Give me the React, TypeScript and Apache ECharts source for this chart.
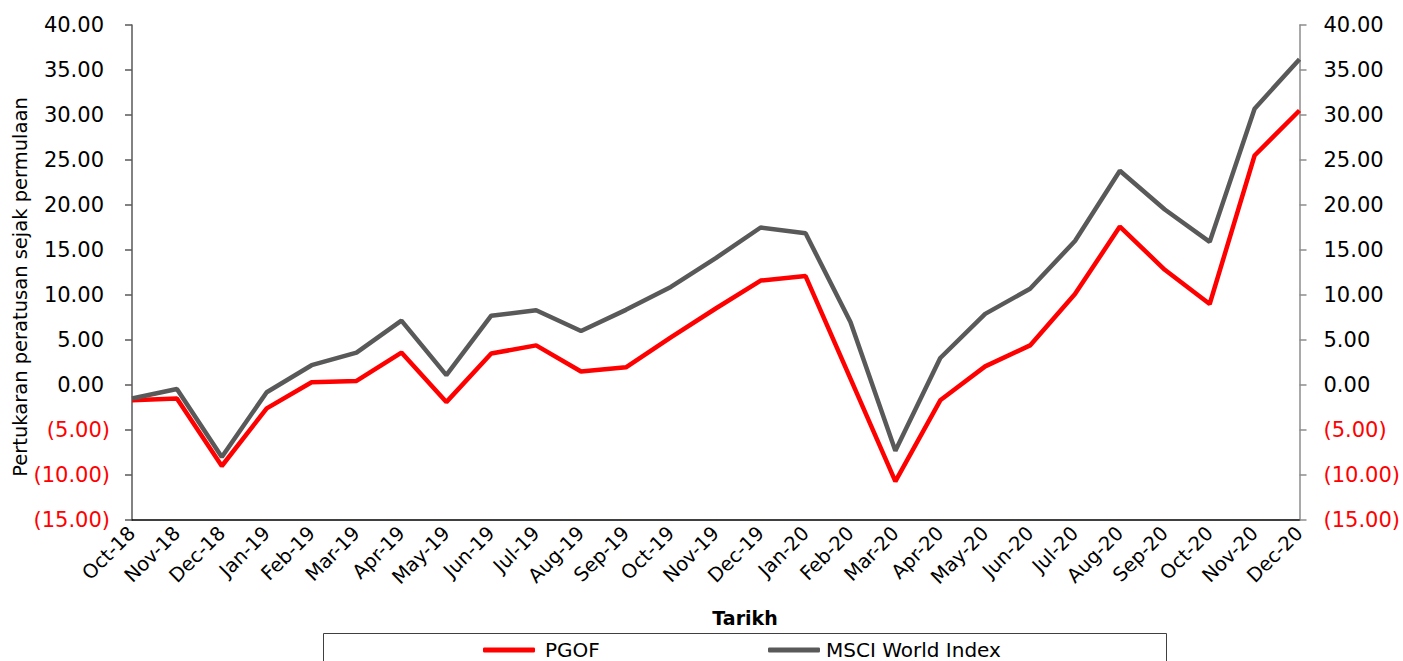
import React, { useEffect, useRef } from "react";
import * as echarts from "echarts";

const categories = [
  "Oct-18", "Nov-18", "Dec-18", "Jan-19", "Feb-19", "Mar-19", "Apr-19", "May-19", "Jun-19",
  "Jul-19", "Aug-19", "Sep-19", "Oct-19", "Nov-19", "Dec-19", "Jan-20", "Feb-20", "Mar-20",
  "Apr-20", "May-20", "Jun-20", "Jul-20", "Aug-20", "Sep-20", "Oct-20", "Nov-20", "Dec-20",
];

const pgof = [
  -1.7, -1.5, -9.0, -2.6, 0.3, 0.45, 3.6, -1.9, 3.5,
  4.4, 1.5, 1.96, 5.3, 8.5, 11.6, 12.1, 0.7, -10.7,
  -1.7, 2.07, 4.4, 10.1, 17.6, 12.8, 9.0, 25.5, 30.5,
];

const msci = [
  -1.5, -0.45, -8.0, -0.8, 2.2, 3.6, 7.15, 1.1, 7.7,
  8.3, 6.0, 8.35, 10.9, 14.1, 17.5, 16.85, 7.0, -7.3,
  3.0, 7.9, 10.7, 16.0, 23.8, 19.5, 15.9, 30.7, 36.2,
];

const yMin = -15;
const yMax = 40;
const yStep = 5;

const seriesNames = ["PGOF", "MSCI World Index"];
const yTitle = "Pertukaran peratusan sejak permulaan";
const xTitle = "Tarikh";

const FONT = "DejaVu Sans";

function fmt(v: number): string {
  return v < 0 ? `(${Math.abs(v).toFixed(2)})` : v.toFixed(2);
}

export default function App() {
  const ref = useRef<HTMLDivElement>(null);

  useEffect(() => {
    if (!ref.current) return;
    const chart = echarts.init(ref.current, undefined, { renderer: "svg" });
    const option: any = {
      animation: false,
      backgroundColor: "#ffffff",
      textStyle: { fontFamily: FONT },
      grid: { left: 132, right: 97, top: 25, bottom: 141, containLabel: false },
      xAxis: {
        type: "category",
        data: categories,
        boundaryGap: false,
        axisLine: { onZero: false, lineStyle: { color: "#000000", width: 1.5 } },
        axisTick: { show: false },
        axisLabel: {
          interval: 0,
          rotate: 45,
          fontSize: 19.5,
          color: "#000000",
          fontFamily: FONT,
          margin: 10,
        },
        splitLine: { show: false },
      },
      yAxis: [
        {
          type: "value",
          position: "left",
          min: yMin,
          max: yMax,
          interval: yStep,
          axisLine: { show: true, lineStyle: { color: "#595959", width: 1.5 } },
          axisTick: { show: true, length: 7, lineStyle: { color: "#595959", width: 1.5 } },
          splitLine: { show: false },
          axisLabel: {
            margin: 22,
            fontSize: 21,
            fontFamily: FONT,
            formatter: (v: number) => (v < 0 ? `{n|${fmt(v)}}` : `{p|${fmt(v)}}`),
            rich: {
              p: { color: "#000000", fontSize: 21, fontFamily: FONT, padding: [0, 6, 0, 0] },
              n: { color: "#ff0000", fontSize: 21, fontFamily: FONT },
            },
          },
        },
        {
          type: "value",
          position: "right",
          min: yMin,
          max: yMax,
          interval: yStep,
          axisLine: { show: true, lineStyle: { color: "#8c8c8c", width: 1.5 } },
          axisTick: { show: true, length: 7, lineStyle: { color: "#8c8c8c", width: 1.5 } },
          splitLine: { show: false },
          axisLabel: {
            margin: 24,
            fontSize: 21,
            fontFamily: FONT,
            formatter: (v: number) => fmt(v),
            color: (v: any) => (Number(v) < 0 ? "#ff0000" : "#000000"),
          },
        },
      ],
      legend: [
        {
          data: [seriesNames[0]],
          left: 483,
          top: 640,
          itemWidth: 52,
          itemHeight: 5,
          itemGap: 0,
          icon: "roundRect",
          padding: 0,
          textStyle: { fontSize: 20, color: "#000000", fontFamily: FONT, padding: [0, 0, 0, 5] },
        },
        {
          data: [seriesNames[1]],
          left: 768,
          top: 640,
          itemWidth: 52,
          itemHeight: 5,
          itemGap: 0,
          icon: "roundRect",
          padding: 0,
          textStyle: { fontSize: 20, color: "#000000", fontFamily: FONT, padding: [0, 0, 0, 1] },
        },
      ],
      graphic: [
        {
          type: "rect",
          shape: { x: 323.5, y: 633.5, width: 843, height: 40 },
          style: { fill: "none", stroke: "#404040", lineWidth: 1 },
          silent: true,
        },
        {
          type: "text",
          x: 20,
          y: 287,
          rotation: Math.PI / 2,
          style: {
            text: yTitle,
            fontSize: 19.5,
            fontFamily: FONT,
            fill: "#000000",
            align: "center",
            verticalAlign: "middle",
          },
        },
        {
          type: "text",
          x: 745,
          y: 618,
          style: {
            text: xTitle,
            fontSize: 19,
            fontWeight: "bold",
            fontFamily: FONT,
            fill: "#000000",
            align: "center",
            verticalAlign: "middle",
          },
        },
      ],
      series: [
        {
          name: seriesNames[0],
          type: "line",
          data: pgof,
          yAxisIndex: 0,
          symbol: "none",
          lineStyle: { color: "#ff0000", width: 4.5 },
          itemStyle: { color: "#ff0000" },
          z: 2,
        },
        {
          name: seriesNames[1],
          type: "line",
          data: msci,
          yAxisIndex: 0,
          symbol: "none",
          lineStyle: { color: "#595959", width: 4.5 },
          itemStyle: { color: "#595959" },
          z: 3,
        },
      ],
    };
    chart.setOption(option);
    return () => chart.dispose();
  }, []);

  return (
    <div
      ref={ref}
      style={{ position: "absolute", left: 0, top: 0, width: 1403, height: 661 }}
    />
  );
}
